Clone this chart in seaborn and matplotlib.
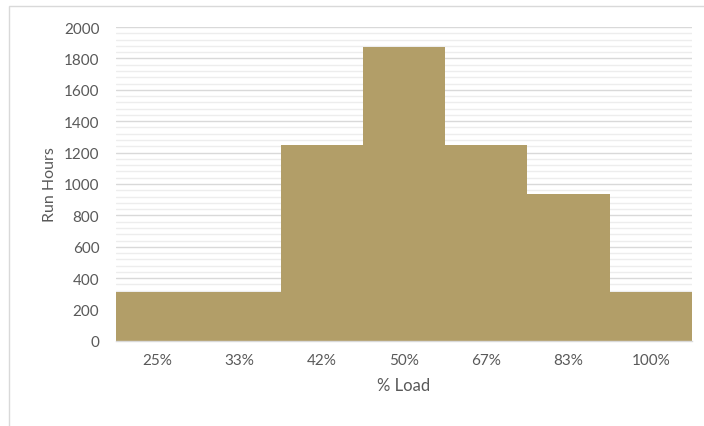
import matplotlib
matplotlib.use("Agg")
import matplotlib.pyplot as plt
import seaborn as sns
import pandas as pd
from matplotlib.ticker import MultipleLocator
from matplotlib.patches import Rectangle

loads = ["25%", "33%", "42%", "50%", "67%", "83%", "100%"]
run_hours = [312.5, 312.5, 1250, 1875, 1250, 937.5, 312.5]

df = pd.DataFrame({"load": loads, "hours": run_hours})

sns.set_style("white")
plt.rcParams["font.family"] = ["Lato", "DejaVu Sans"]

fig = plt.figure(figsize=(7.04, 4.27), dpi=100)
ax = fig.add_axes([116 / 704, 1 - 342 / 427, (692 - 116) / 704, (342 - 28) / 427])

sns.barplot(data=df, x="load", y="hours", color="#B29E68", saturation=1,
            width=1.0, linewidth=0, ax=ax, zorder=3)

ax.set_ylim(0, 2000)
ax.set_xlim(-0.5, len(loads) - 0.5)
ax.yaxis.set_major_locator(MultipleLocator(200))
ax.yaxis.set_minor_locator(MultipleLocator(40))
ax.grid(which="major", axis="y", color="#D9D9D9", linewidth=1.0, zorder=0)
ax.grid(which="minor", axis="y", color="#EDEDED", linewidth=1.0, zorder=0)
ax.set_axisbelow(True)

for side in ["top", "right", "left"]:
    ax.spines[side].set_visible(False)
ax.spines["bottom"].set_color("#D9D9D9")
ax.spines["bottom"].set_linewidth(1.0)
ax.spines["bottom"].set_zorder(4)

ax.tick_params(axis="both", which="both", length=0, labelsize=11,
               labelcolor="#595959", pad=9)
ax.tick_params(axis="y", pad=12)
ax.set_xlabel("% Load", fontsize=12, color="#595959", labelpad=7)
ax.set_ylabel("Run Hours", fontsize=11.5, color="#595959", labelpad=5)

# outer chart border
fig.patches.append(Rectangle((9 / 704, -0.05), 1.1, 1 - 7 / 427 + 0.05,
                             transform=fig.transFigure, fill=False,
                             edgecolor="#D9D9D9", linewidth=1.0))

fig.savefig("out.png", dpi=100)
